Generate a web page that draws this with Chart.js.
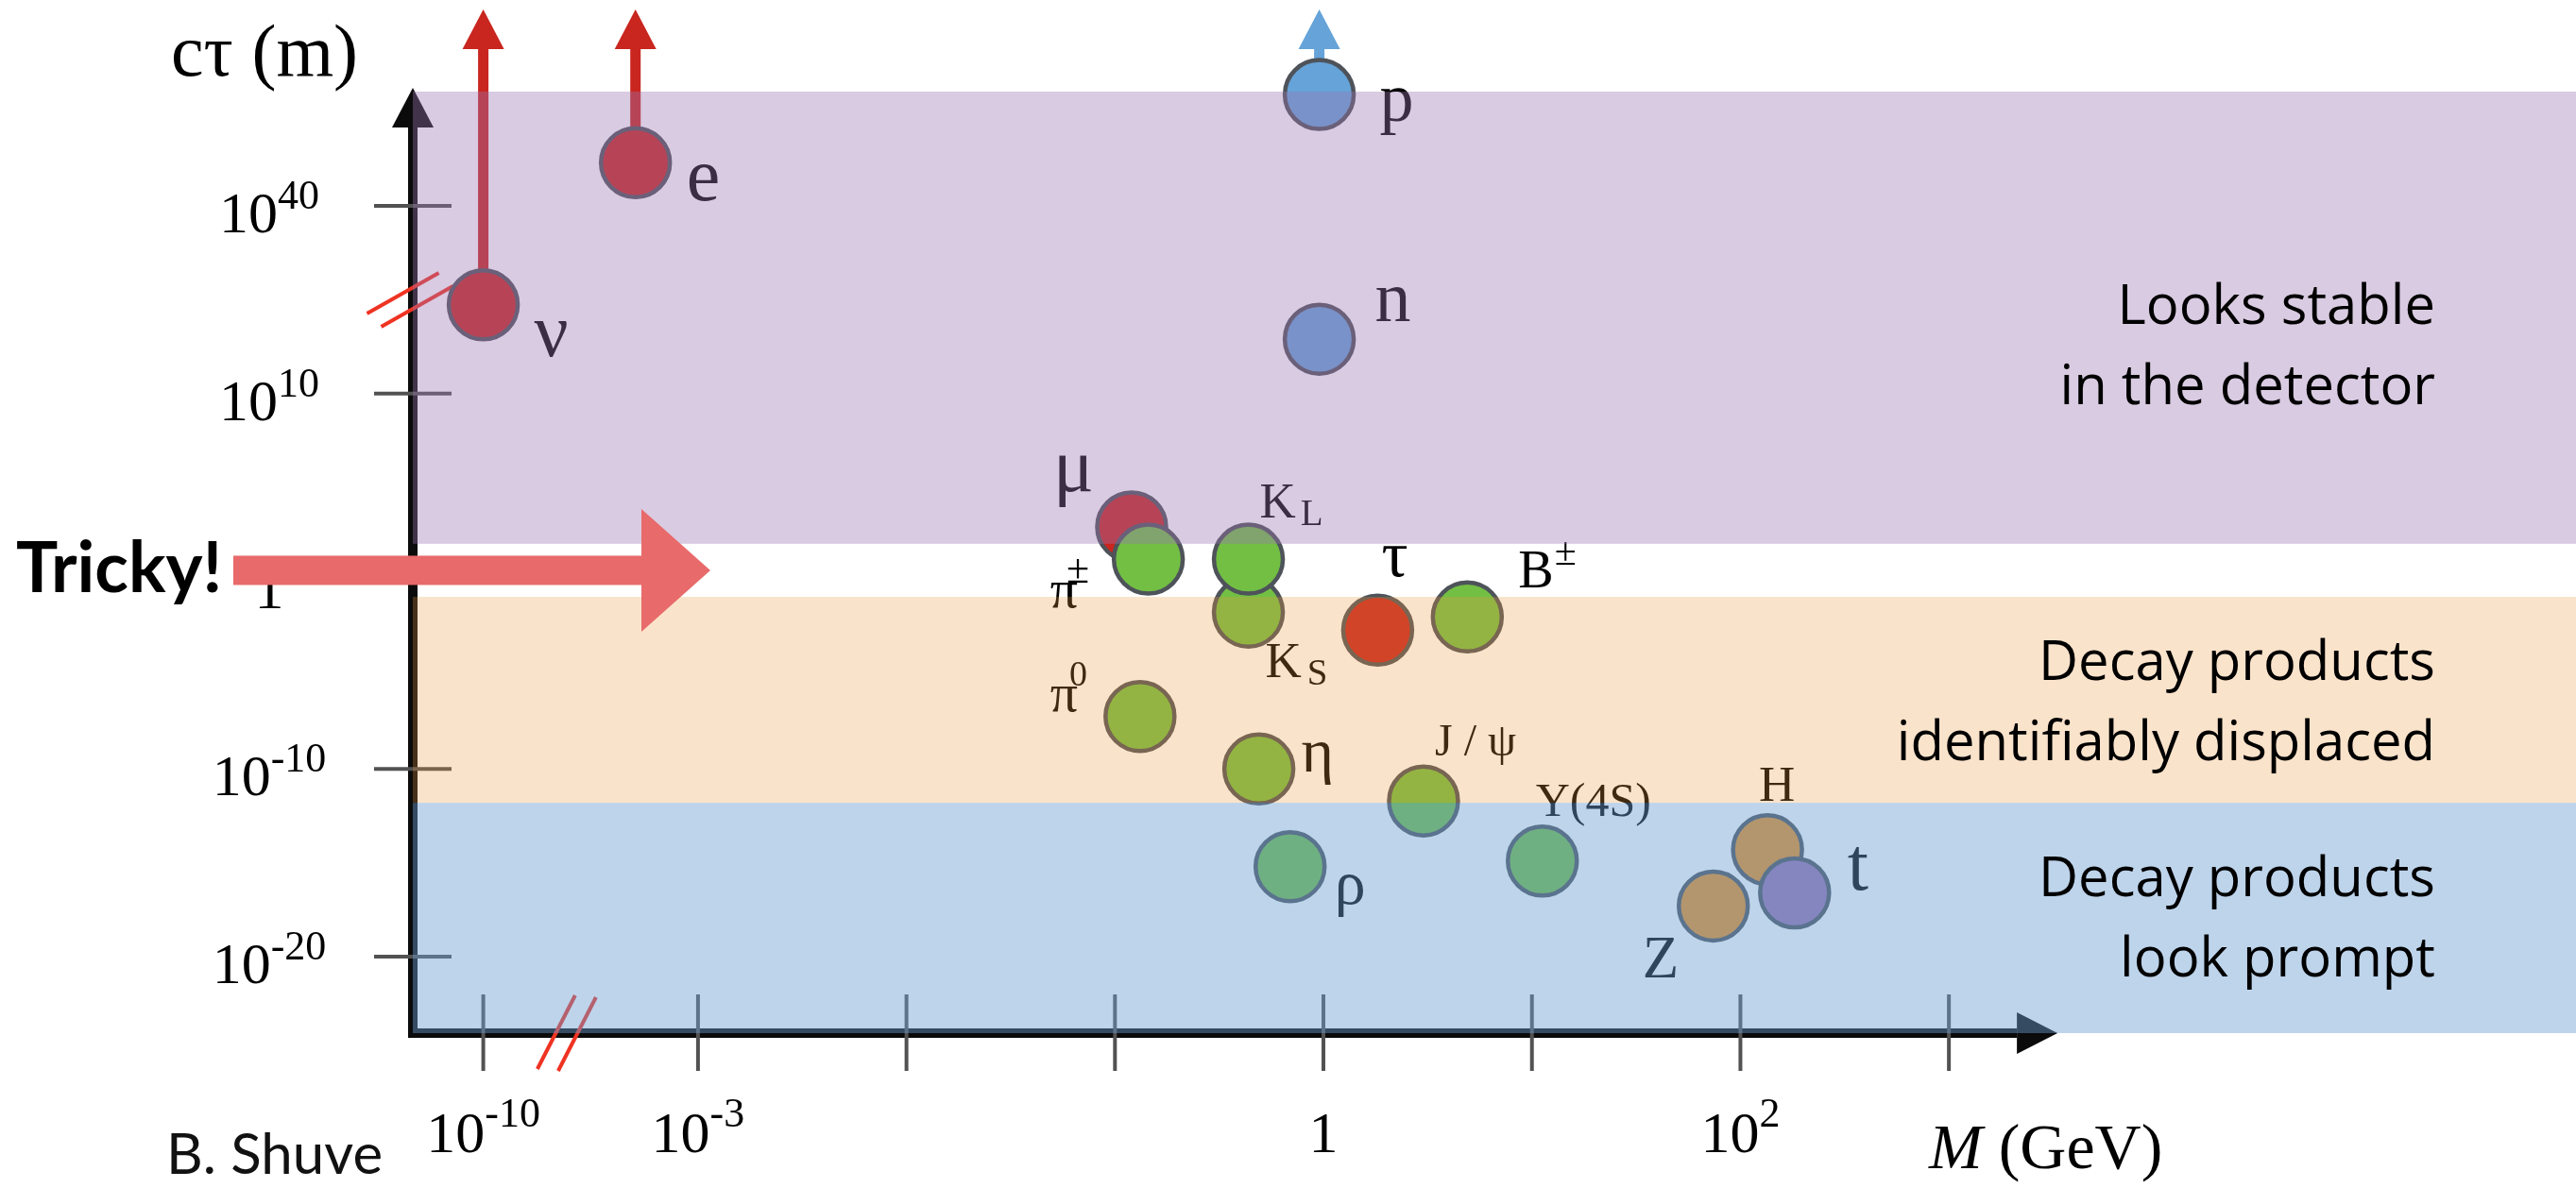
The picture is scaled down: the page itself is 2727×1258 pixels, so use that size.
<!DOCTYPE html>
<html>
<head>
<meta charset="utf-8">
<title>Particle lifetimes vs mass</title>
<script src="https://cdn.jsdelivr.net/npm/chart.js@4.4.1/dist/chart.umd.min.js"></script>
<style>
  html, body { margin: 0; padding: 0; background: #fff; overflow: hidden; }
  #wrap { width: 2727px; height: 1258px; }
  canvas { display: block; }
</style>
</head>
<body>
<div id="wrap"><canvas id="lifetimeChart" width="2727" height="1258"></canvas></div>
<script>
(function(){
    // particles, drawn in this order (later ones sit on top)
    const particles = ['ν','e','p','n','μ','π^±','K_S','K_L','τ','B^±','π^0','η','J / ψ','ρ','Y(4S)','H','Z','t'];
    const families  = ['lepton','lepton','baryon','baryon','lepton','meson','meson','meson','lepton','meson','meson','meson','meson','meson','meson','boson','boson','top'];
    // log10(M / GeV)
    const massLog   = [-10, -3.3, -0.02, -0.02, -0.92, -0.84, -0.36, -0.36, 0.26, 0.69, -0.88, -0.31, 0.48, -0.16, 1.05, 2.13, 1.87, 2.26];
    // log10(cτ / m)
    const ctauLog   = [24.2, 46.9, 57.8, 18.7, 2.9, 1.18, -1.64, 1.18, -2.6, -1.9, -7.2, -10.0, -11.7, -15.2, -14.9, -14.3, -17.3, -16.6];
    // these run off the top of the plot
    const offScale  = ['ν','e','p'];

    const massTicks      = [-10, -3, -2, -1, 0, 1, 2, 3];
    const massTickLabels = ['10^-10', '10^-3', '', '', '1', '', '10^2', ''];
    const ctauTicks      = [-20, -10, 0, 10, 40];
    const ctauTickLabels = ['10^-20', '10^-10', '1', '10^10', '10^40'];

    // lifetime regions, log10(cτ); null = runs to the end of the axis
    const bandTop    = [null, -0.83, -11.8];
    const bandBottom = [2, -11.8, null];
    const bandText   = [['Looks stable', 'in the detector'],
                        ['Decay products', 'identifiably displaced'],
                        ['Decay products', 'look prompt']];

    // mass axis jumps from 10^-10 straight to 10^-3
    function massPos(lg){ return lg < -3.5 ? lg + 5.97 : lg; }
    // cτ axis: one tick per 10 decades up to 10^10, one per 30 above that
    function ctauPos(lg){ return lg <= 10 ? lg / 10 : 1 + (lg - 10) / 30; }

    const ink = { lepton: '#c8261f', baryon: '#65a3d8', meson: '#72bf44', boson: '#ec9120', top: '#9a74b3' };
    const bandFill = ['rgba(155,118,176,0.38)', 'rgba(237,152,63,0.27)', 'rgba(107,157,209,0.44)'];
    const SERIF = '"Liberation Serif", "DejaVu Serif", serif';

    // label placement: baseline-left offset from the marker centre
    const labelStyle = {
        'ν':     { dx: 54,  dy: 54,  size: 80 },
        'e':     { dx: 54,  dy: 40,  size: 80 },
        'p':     { dx: 64,  dy: 28,  size: 72 },
        'n':     { dx: 59,  dy: -19, size: 76 },
        'μ':     { dx: -83, dy: -38, size: 80 },
        'π^±':   { dx: -104, dy: 51, size: 58, script: 44, gap: -12, shift: -26 },
        'K_S':   { dx: 18,  dy: 69,  size: 53, script: 39, gap: 6, shift: 8 },
        'K_L':   { dx: 12,  dy: -44, size: 53, script: 39, gap: 5, shift: 8 },
        'τ':     { dx: 4,   dy: -57, size: 70 },
        'B^±':   { dx: 54,  dy: -31, size: 56, script: 42, gap: 1, shift: -24 },
        'π^0':   { dx: -95, dy: -6,  size: 58, script: 38, gap: -9, shift: -27 },
        'η':     { dx: 45,  dy: 3,   size: 66 },
        'J / ψ': { dx: 12,  dy: -48, size: 48 },
        'ρ':     { dx: 47,  dy: 39,  size: 66 },
        'Y(4S)': { dx: -7,  dy: -48, size: 50 },
        'H':     { dx: -9,  dy: -52, size: 53 },
        'Z':     { dx: -75, dy: 76,  size: 63 },
        't':     { dx: 56,  dy: -4,  size: 80 }
    };

    // text with one optional ^superscript or _subscript part
    function drawRich(ctx, text, x, y, size, o){
        o = o || {};
        const m = text.match(/^([^_^]*)([_^])(.*)$/);
        ctx.font = size + 'px ' + SERIF;
        if(!m){ ctx.fillText(text, x, y); return; }
        ctx.fillText(m[1], x, y);
        const w = ctx.measureText(m[1]).width;
        ctx.font = (o.script || Math.round(size * 0.7)) + 'px ' + SERIF;
        const shift = o.shift !== undefined ? o.shift : (m[2] === '^' ? -size * 0.45 : size * 0.15);
        ctx.fillText(m[3], x + w + (o.gap || 0), y + shift);
    }
    function richWidth(ctx, text, size, script){
        const m = text.match(/^([^_^]*)([_^])(.*)$/);
        ctx.font = size + 'px ' + SERIF;
        if(!m) return ctx.measureText(text).width;
        const w = ctx.measureText(m[1]).width;
        ctx.font = script + 'px ' + SERIF;
        return w + ctx.measureText(m[3]).width;
    }

    function upArrow(ctx, x, yFrom, yTip, color){
        ctx.fillStyle = color;
        ctx.fillRect(x - 5.5, yTip + 42, 11, yFrom - yTip - 42);
        ctx.beginPath();
        ctx.moveTo(x, yTip);
        ctx.lineTo(x + 22, yTip + 42);
        ctx.lineTo(x - 22, yTip + 42);
        ctx.closePath();
        ctx.fill();
    }
    function breakMarks(ctx, cx, cy, ux, uy, sx, sy){
        ctx.strokeStyle = '#ef3322';
        ctx.lineWidth = 4;
        [-0.5, 0.5].forEach(k=>{
            const mx = cx + k * sx, my = cy + k * sy;
            ctx.beginPath();
            ctx.moveTo(mx - ux / 2, my - uy / 2);
            ctx.lineTo(mx + ux / 2, my + uy / 2);
            ctx.stroke();
        });
    }

    // axes, ticks, axis breaks and the "runs off the scale" arrows
    const axesPlugin = {
        id: 'axesUnder',
        beforeDatasetsDraw(chart){
            const {ctx, chartArea: a, scales: {x: xs, y: ys}} = chart;
            ctx.save();
            ctx.fillStyle = '#0b0b0b';
            // vertical axis with arrow head
            ctx.fillRect(a.left - 5, a.top + 38, 10, a.bottom - a.top - 38 + 5);
            ctx.beginPath();
            ctx.moveTo(a.left, a.top - 4);
            ctx.lineTo(a.left + 22, a.top + 38);
            ctx.lineTo(a.left - 22, a.top + 38);
            ctx.closePath(); ctx.fill();
            // horizontal axis with arrow head
            const xEnd = xs.getPixelForValue(3) + 115;
            ctx.fillRect(a.left - 5, a.bottom - 5, xEnd - 43 - a.left + 5, 10);
            ctx.beginPath();
            ctx.moveTo(xEnd, a.bottom);
            ctx.lineTo(xEnd - 43, a.bottom - 22);
            ctx.lineTo(xEnd - 43, a.bottom + 22);
            ctx.closePath(); ctx.fill();

            ctx.strokeStyle = '#525252';
            ctx.lineWidth = 4;
            ctauTicks.forEach(t=>{
                const y = ys.getPixelForValue(ctauPos(t));
                ctx.beginPath(); ctx.moveTo(a.left - 41, y); ctx.lineTo(a.left + 41, y); ctx.stroke();
            });
            massTicks.forEach(t=>{
                const x = xs.getPixelForValue(massPos(t));
                ctx.beginPath(); ctx.moveTo(x, a.bottom - 41); ctx.lineTo(x, a.bottom + 40); ctx.stroke();
            });

            breakMarks(ctx, a.left - 3, ys.getPixelForValue(1.5), 76, -43, 15, 14);
            breakMarks(ctx, xs.getPixelForValue(-3.63), a.bottom, 40, -78, 22, 2);

            offScale.forEach(name=>{
                const i = particles.indexOf(name);
                upArrow(ctx, xs.getPixelForValue(massPos(massLog[i])), ys.getPixelForValue(ctauPos(ctauLog[i])),
                        10, ink[families[i]]);
            });
            ctx.restore();
        }
    };

    // labels, translucent regions and annotations on top of the markers
    const overlayPlugin = {
        id: 'overlay',
        afterDatasetsDraw(chart){
            const {ctx, chartArea: a, scales: {x: xs, y: ys}} = chart;
            ctx.save();
            ctx.textBaseline = 'alphabetic';
            ctx.textAlign = 'left';
            ctx.fillStyle = '#000';

            particles.forEach((name, i)=>{
                const s = labelStyle[name];
                const cx = xs.getPixelForValue(massPos(massLog[i]));
                const cy = ys.getPixelForValue(ctauPos(ctauLog[i]));
                drawRich(ctx, name, cx + s.dx, cy + s.dy, s.size, s);
            });

            const bandY = v => v === null ? null : ys.getPixelForValue(ctauPos(v));
            bandFill.forEach((fill, i)=>{
                const top = bandTop[i] === null ? a.top : bandY(bandTop[i]);
                const bottom = bandBottom[i] === null ? a.bottom : bandY(bandBottom[i]);
                ctx.fillStyle = fill;
                ctx.fillRect(a.left, top, a.right - a.left, bottom - top);
            });

            // tick labels
            ctx.fillStyle = '#000';
            ctauTicks.forEach((t, i)=>{
                const y = ys.getPixelForValue(ctauPos(t));
                const lab = ctauTickLabels[i];
                const w = richWidth(ctx, lab, 62, 44);
                drawRich(ctx, lab, 285 - w / 2, y + 28, 62, { script: 44, shift: -25 });
            });
            massTicks.forEach((t, i)=>{
                const lab = massTickLabels[i];
                if(!lab) return;
                const x = xs.getPixelForValue(massPos(t));
                const w = richWidth(ctx, lab, 62, 44);
                drawRich(ctx, lab, x - w / 2, 1220, 62, { script: 44, shift: -27 });
            });

            // axis titles and credit
            ctx.font = '78px ' + SERIF;
            ctx.fillText('cτ (m)', 181, 80);
            ctx.font = 'italic 68px ' + SERIF;
            ctx.fillText('M', 2042, 1237);
            const mw = ctx.measureText('M ').width;
            ctx.font = '68px ' + SERIF;
            ctx.fillText('(GeV)', 2042 + mw, 1237);
            ctx.font = '60px Lato, "Open Sans", sans-serif';
            ctx.fillStyle = '#111';
            ctx.fillText('B. Shuve', 176, 1243);

            // region descriptions
            ctx.fillStyle = '#000';
            ctx.textAlign = 'right';
            ctx.font = '58px "Open Sans", sans-serif';
            const firstBase = [343, 720, 949];
            bandText.forEach((lines, i)=>{
                lines.forEach((line, k)=> ctx.fillText(line, 2578, firstBase[i] + k * 85));
            });

            // "Tricky!" arrow into the gap between the stable and displaced regions
            const gapY = (bandY(bandBottom[0]) + bandY(bandTop[1])) / 2;
            ctx.fillStyle = '#e86a6a';
            ctx.fillRect(247, gapY - 15.5, 679 - 247, 31);
            ctx.beginPath();
            ctx.moveTo(679, gapY - 65);
            ctx.lineTo(752, gapY);
            ctx.lineTo(679, gapY + 65);
            ctx.closePath(); ctx.fill();
            ctx.textAlign = 'left';
            ctx.fillStyle = '#000';
            ctx.font = 'bold 74px Lato, "Open Sans", sans-serif';
            ctx.fillText('Tricky!', 17, gapY + 23);
            ctx.restore();
        }
    };

    new Chart(document.getElementById('lifetimeChart'), {
        type: 'scatter',
        data: {
            datasets: [{
                data: particles.map((name, i)=>({ x: massPos(massLog[i]), y: ctauPos(ctauLog[i]) })),
                backgroundColor: families.map(f=>ink[f]),
                borderColor: '#4e535a',
                borderWidth: 4.5,
                pointRadius: 36.5,
                pointHoverRadius: 36.5,
                clip: false
            }]
        },
        options: {
            responsive: false,
            animation: false,
            devicePixelRatio: 1,
            events: [],
            layout: { autoPadding: false, padding: { left: 437, right: 0, top: 97, bottom: 164 } },
            scales: {
                x: { type: 'linear', min: -4.368, max: 6.008, display: false },
                y: { type: 'linear', min: -2.407, max: 2.609, display: false }
            },
            plugins: { legend: { display: false }, tooltip: { enabled: false } }
        },
        plugins: [axesPlugin, overlayPlugin]
    });
})();
</script>
</body>
</html>
